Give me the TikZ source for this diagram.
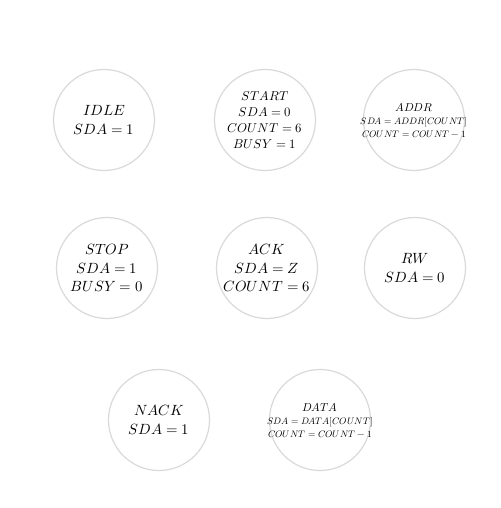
\documentclass[tikz,border=0pt]{standalone}
\usepackage{unicode-math}
\setmathfont{Latin Modern Math}
\tikzset{
  state/.style={circle, draw=black!15, line width=1.2pt, minimum size=101pt, inner sep=0pt, align=center},
  tight/.style={inner sep=-12pt},
  big/.style={font=\fontsize{14.8}{18.5}\selectfont},
  mid/.style={font=\fontsize{12.8}{15.8}\selectfont},
  tiny/.style={font=\fontsize{11.5}{13}\selectfont},
}
\newcommand{\smallln}[1]{{\fontsize{9.4}{12}\selectfont #1}}
\begin{document}
\begin{tikzpicture}[x=1pt,y=-1pt]
\useasboundingbox (0,0) rectangle (500,508);
\node[state,big] (idle) at (104,120) {$IDLE$\\$SDA=1$};
\node[state,mid] (start) at (265,120) {$START$\\$SDA=0$\\$COUNT=6$\\$BUSY=1$};
\node[state,tiny,tight] (addr) at (414,120) {$ADDR$\\\smallln{$SDA=ADDR[COUNT]$}\\\smallln{$COUNT=COUNT-1$}};
\node[state,big] (stop) at (107,268) {$STOP$\\$SDA=1$\\$BUSY=0$};
\node[state,big] (ack) at (267,268) {$ACK$\\$SDA=Z$\\$COUNT=6$};
\node[state,big] (rw) at (415,268) {$RW$\\$SDA=0$};
\node[state,big] (nack) at (159,420) {$NACK$\\$SDA=1$};
\node[state,tiny,tight] (data) at (320,420) {$DATA$\\\smallln{$SDA=DATA[COUNT]$}\\\smallln{$COUNT=COUNT-1$}};
\end{tikzpicture}
\end{document}
